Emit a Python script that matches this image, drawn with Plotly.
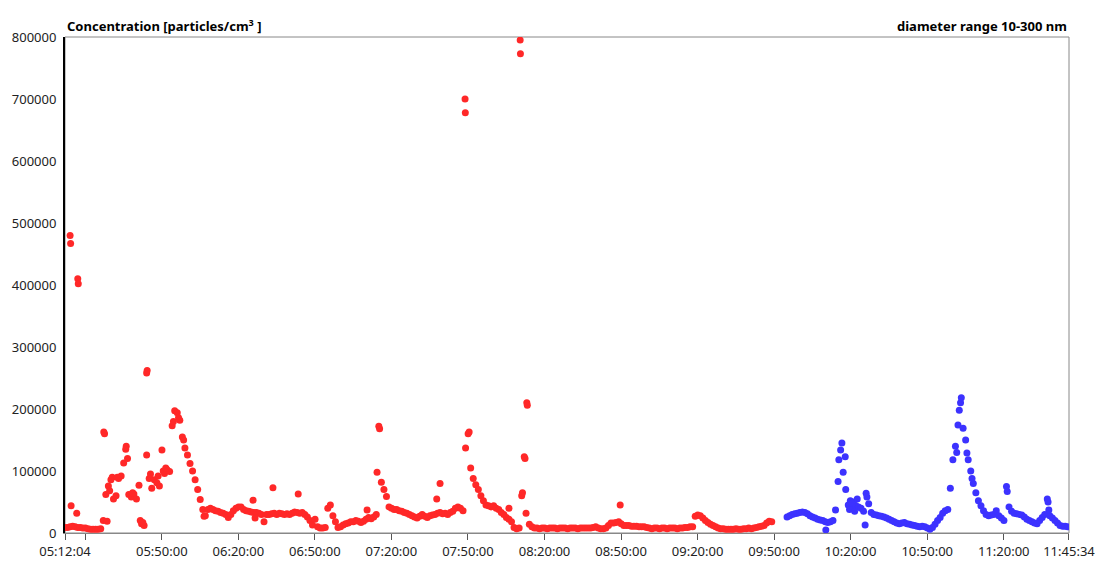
import pandas as pd
import plotly.graph_objects as go

# concentrations in thousands of particles/cm3, one reading per minute
red_start = "2015-06-10 05:12:04"
red_k = [
    9, 9, 10, 11, 10, 9, 9, 8, 8, 7,
    6, 6, 6, 6, 7, 20, 62, 76, 86, 55,
    60, 88, 92, 113, 140, 62, 58, 63, 55, 77,
    15, 12, 126, 88, 72, 86, 81, 76, 134, 96,
    102, 99, 173, 197, 194, 182, 155, 137, 126, 112,
    100, 86, 70, 54, 38, 28, 38, 40, 38, 36,
    35, 33, 32, 30, 25, 30, 36, 40, 42, 42,
    38, 36, 35, 34, 33, 33, 32, 30, 18, 30,
    30, 31, 32, 30, 32, 31, 30, 31, 30, 32,
    34, 33, 32, 33, 30, 26, 20, 13, 22, 10,
    8, 8, 9, 40, 45, 28, 18, 9, 10, 13,
    15, 16, 18, 18, 20, 19, 17, 19, 22, 25,
    23, 26, 30, 172, 82, 70, 59, 42, 40, 38,
    38, 36, 35, 33, 32, 30, 28, 26, 24, 27,
    30, 27, 25, 28, 29, 30, 32, 33, 31, 32,
    30, 33, 35, 40, 42, 40, 36, 137, 160, 105,
    88, 78, 70, 60, 52, 45, 44, 42, 44, 40,
    38, 33, 30, 25, 22, 18, 9, 7, 8, 60,
    123, 210, 14, 10, 8, 8, 7, 8, 8, 7,
    8, 8, 8, 7, 8, 8, 8, 7, 8, 8,
    8, 7, 8, 8, 8, 8, 8, 9, 10, 8,
    7, 7, 8, 12, 16, 16, 17, 18, 15, 12,
    12, 12, 11, 11, 11, 10, 10, 10, 9, 8,
    7, 8, 8, 7, 8, 8, 7, 8, 8, 8,
    7, 8, 8, 9, 9, 10, 10, 27, 29, 28,
    24, 20, 17, 14, 12, 10, 8, 7, 7, 6,
    6, 6, 6, 7, 6, 6, 7, 7, 8, 7,
    8, 9, 10, 11, 12, 16, 19, 18,
]
# extra readings between the minutes (offset in minutes from red_start)
red_extra_min = [2.0, 2.2, 2.4, 4.6, 5.0, 5.2, 15.2, 15.5, 16.5, 17.5, 18.5, 20.5,
                 23.8, 24.5, 26.5, 29.5, 30.5, 32.0, 32.2, 33.5, 36.5, 38.5, 39.5,
                 42.5, 44.5, 46.5, 54.5, 73.7, 74.5, 81.5, 91.4, 118.4, 122.3,
                 123.3, 145.7, 147.0, 156.8, 156.9, 158.4, 174.0, 178.4, 178.5,
                 179.3, 180.3, 181.2, 180.7, 217.6]
red_extra_k = [480, 467, 44, 32, 410, 402, 163, 160, 19, 68, 90, 90,
               135, 120, 65, 20, 17, 258, 262, 95, 92, 100, 105,
               180, 186, 150, 27, 53, 24, 73, 63, 37, 98,
               168, 55, 80, 700, 678, 163, 40, 795, 773,
               65, 120, 206, 32, 45]

blue_offset_min = 283
blue_k = [
    26, 28, 30, 31, 32, 33, 34, 33, 31, 28,
    26, 24, 22, 21, 20, 18, 17, 18, 20, 37,
    83, 134, 98, 70, 45, 40, 50, 44, 42, 40,
    35, 64, 47, 33, 30, 29, 28, 27, 26, 24,
    22, 20, 18, 16, 15, 16, 17, 15, 14, 13,
    12, 11, 10, 11, 10, 8, 6, 9, 14, 20,
    25, 32, 36, 38, 72, 118, 140, 174, 210, 169,
    150, 118, 100, 80, 65, 52, 44, 36, 30, 28,
    29, 30, 36, 28, 24, 20, 75, 42, 35, 32,
    31, 30, 29, 26, 22, 20, 18, 16, 15, 20,
    25, 30, 55, 28, 24, 20, 16, 12, 11, 11,
    10,
]
blue_extra_min = [298.2, 303.3, 304.5, 305.8, 307.5, 307.8, 308.5, 309.5, 310.5,
                  313.6, 314.3, 349.5, 350.5, 351.3, 353.5, 355.5, 369.3, 385.3, 385.6]
blue_extra_k = [5, 118, 145, 123, 38, 52, 48, 35, 55,
                13, 58, 130, 198, 218, 129, 88, 67, 50, 37]

tick_times = ["05:12:04", "05:50:00", "06:20:00", "06:50:00", "07:20:00",
              "07:50:00", "08:20:00", "08:50:00", "09:20:00", "09:50:00", "10:20:00",
              "10:50:00", "11:20:00", "11:45:34"]

t0 = pd.Timestamp(red_start)
day = t0.strftime("%Y-%m-%d")


def to_times(minutes):
    return [t0 + pd.Timedelta(minutes=m) for m in minutes]


red_min = list(range(len(red_k))) + red_extra_min
red_val = [v * 1000 for v in red_k + red_extra_k]
blue_min = [blue_offset_min + i for i in range(len(blue_k))] + blue_extra_min
blue_val = [v * 1000 for v in blue_k + blue_extra_k]

fig = go.Figure()
fig.add_trace(go.Scatter(x=to_times(red_min), y=red_val, mode="markers",
                         marker=dict(color="rgb(255,40,40)", size=7), showlegend=False))
fig.add_trace(go.Scatter(x=to_times(blue_min), y=blue_val, mode="markers",
                         marker=dict(color="rgb(60,50,255)", size=7), showlegend=False))

fig.update_layout(
    width=1095, height=561,
    margin=dict(l=65, r=26, t=37, b=28),
    paper_bgcolor="white", plot_bgcolor="white",
    font=dict(family="Noto Sans", size=13, color="#222"),
    xaxis=dict(type="date", range=[f"{day} 05:12:04", f"{day} 11:45:34.5"],
               tickvals=[f"{day} {t}" for t in tick_times], ticktext=tick_times,
               automargin=False, ticklabeloverflow="allow",
               showgrid=False, zeroline=False, showline=True, linecolor="#888",
               linewidth=1, ticks="outside", ticklen=6, tickcolor="#555",
               minor=dict(tick0=f"{day} 05:20:00", dtick=1800000, ticks="outside",
                          ticklen=6, tickcolor="#555", showgrid=False)),
    yaxis=dict(range=[0, 800000], dtick=100000, tickformat="d", automargin=False,
               showgrid=False, zeroline=False, showline=True, linecolor="black",
               linewidth=2, ticks="", ticklabelstandoff=4),
    shapes=[dict(type="rect", xref="paper", yref="paper", x0=0, y0=0, x1=1, y1=1,
                 line=dict(color="#888", width=1), layer="below")],
    annotations=[
        dict(text="<b>Concentration [particles/cm<sup>3</sup> ]</b>", xref="paper", yref="paper",
             x=0, y=1, xanchor="left", yanchor="bottom", showarrow=False,
             font=dict(size=13, color="black")),
        dict(text="<b>diameter range 10-300 nm</b>", xref="paper", yref="paper",
             x=1, y=1, xanchor="right", yanchor="bottom", showarrow=False,
             font=dict(size=13, color="black")),
    ],
)

# the page's default body margin would shift the figure by 8px
fig.write_html("out.html", config={"displayModeBar": False},
               post_script="document.body.style.margin='0';")
